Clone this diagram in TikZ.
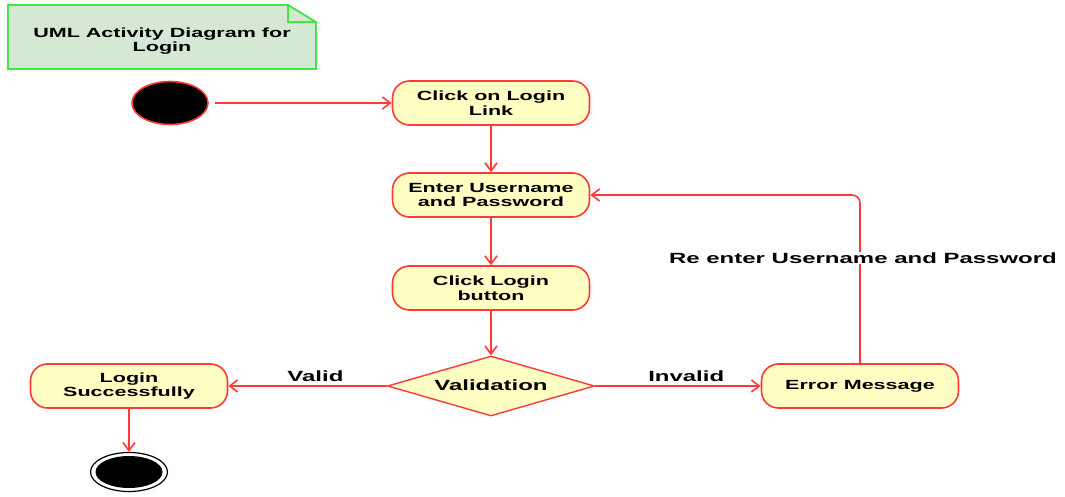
\documentclass[tikz,border=0pt]{standalone}
\usepackage{fontspec}
\setmainfont[FakeStretch=1.62]{Liberation Sans}
\usetikzlibrary{shapes.geometric,arrows.meta}
\definecolor{actfill}{HTML}{FFFFC4}
\definecolor{actline}{HTML}{FF3838}
\definecolor{notefill}{HTML}{D5E8D4}
\definecolor{noteline}{HTML}{3EE83E}
\begin{document}
\begin{tikzpicture}[x=1pt,y=-1pt,
  act/.style={draw=actline,fill=actfill,line width=1.6pt,rounded corners=17pt,
    minimum width=197pt,minimum height=44pt,inner sep=0pt,align=center,
    font=\fontsize{13.3}{14.8}\selectfont\bfseries},
  flow/.style={draw=actline,line width=1.6pt,-{Straight Barb[length=8pt,width=12pt]}},
  lbl/.style={font=\fontsize{14.8}{16}\selectfont\bfseries,inner sep=1pt}]
\useasboundingbox (0,0) rectangle (1065,497);
% note
\draw[fill=notefill,draw=noteline,line width=1.8pt] (8,5) -- (288,5) -- (316,22) -- (316,69) -- (8,69) -- cycle;
\draw[draw=noteline,line width=1.8pt] (288,5) -- (288,22) -- (316,22);
\node[align=center,font=\fontsize{13.3}{14.8}\selectfont\bfseries] (title) at (162,41) {UML Activity Diagram for\\Login};
% nodes
\node[ellipse,fill=black,draw=actline,line width=1.6pt,minimum width=76pt,minimum height=43pt,inner sep=0pt] (start) at (170,103) {};
\node[act] (click) at (491,103) {Click on Login\\Link};
\node[act] (enter) at (491,195) {Enter Username\\and Password};
\node[act] (button) at (491,288) {Click Login\\button};
\node[diamond,draw=actline,fill=actfill,line width=1.4pt,minimum width=207pt,minimum height=60pt,inner sep=0pt,aspect=3.45] (valid) at (491,386) {};
\node[font=\fontsize{14.8}{16}\selectfont\bfseries] (validtxt) at (491,385) {Validation};
\node[act] (success) at (129,386) {Login\\Successfully};
\node[act] (error) at (860,386) {Error Message};
\node[ellipse,draw=black,line width=1.2pt,minimum width=77pt,minimum height=39pt,inner sep=0pt] (endo) at (129,472) {};
\node[ellipse,fill=black,minimum width=67pt,minimum height=32pt,inner sep=0pt] (endi) at (129,472) {};
\coordinate (corner) at (860,195);
% connectors
\draw[flow,shorten <=6pt] (start) -- (click);
\draw[flow] (click) -- (enter);
\draw[flow] (enter) -- (button);
\draw[flow] (button) -- (valid);
\draw[flow] (valid.west) -- node[lbl,above=3pt,pos=0.45] (vl) {Valid} (success);
\draw[flow] (valid.east) -- node[lbl,above=3pt,pos=0.55] (il) {Invalid} (error);
\draw[flow,rounded corners=8pt] (error.north) -- (corner) -- (enter.east);
\draw[flow] (success) -- (endo);
\node[lbl,fill=white] (re) at (863,258) {Re enter Username and Password};
\end{tikzpicture}
\end{document}
